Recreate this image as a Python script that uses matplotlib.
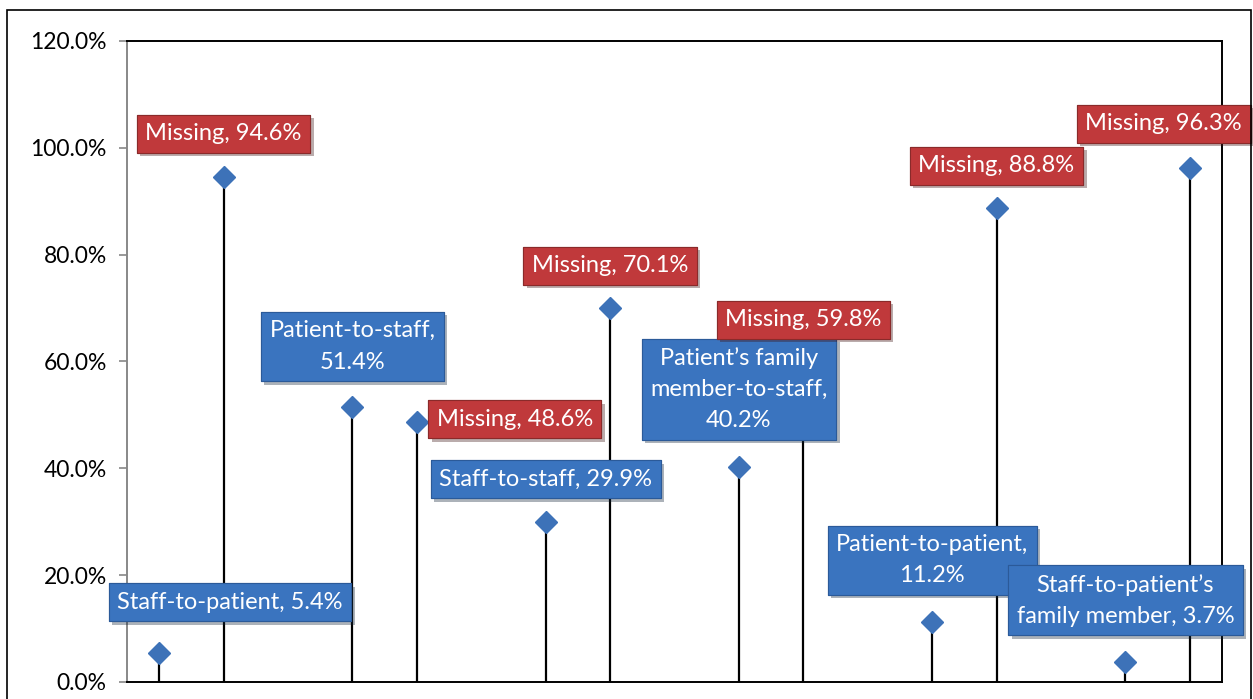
import matplotlib
matplotlib.use("Agg")
import matplotlib.pyplot as plt
import matplotlib.patheffects as pe
from matplotlib.patches import Rectangle
from matplotlib.ticker import FuncFormatter

plt.rcParams['font.family'] = ['Lato', 'DejaVu Sans']

# 17 slots along x, some empty (gaps between groups)
slots = [0, 1, 3, 4, 6, 7, 9, 10, 12, 13, 15, 16]
values = [0.054, 0.946, 0.514, 0.486, 0.299, 0.701,
          0.402, 0.598, 0.112, 0.888, 0.037, 0.963]
labels = ["Staff-to-patient, 5.4%", "Missing, 94.6%",
          "Patient-to-staff,\n51.4%", "Missing, 48.6%",
          "Staff-to-staff, 29.9%", "Missing, 70.1%",
          "Patient\u2019s family\nmember-to-staff,\n40.2%", "Missing, 59.8%",
          "Patient-to-patient,\n11.2%", "Missing, 88.8%",
          "Staff-to-patient\u2019s\nfamily member, 3.7%", "Missing, 96.3%"]
is_missing = [False, True, False, True, False, True,
              False, True, False, True, False, True]
y_ticks = [0.0, 0.2, 0.4, 0.6, 0.8, 1.0, 1.2]

# label offsets from the marker, in pixels
offsets = [(71, 51), (0, 43), (0, 61), (98, 3), (0, 43), (0, 42),
           (0, 78), (0, 43), (0, 62), (0, 42), (0, 62), (-26, 44)]

red = '#C0393B'
blue = '#3A74BF'

fig = plt.figure(figsize=(12.53, 6.99), dpi=100)
ax = fig.add_axes([127/1253, 1 - 682/699, (1222 - 127)/1253, (682 - 41)/699])

ax.vlines(slots, 0, values, color='black', lw=1.6, zorder=2)
ax.plot(slots, values, ls='none', marker='D', markersize=11.5,
        color='#3D72B8', markeredgecolor='#3D72B8', zorder=3)

for x, v, lab, miss, off in zip(slots, values, labels, is_missing, offsets):
    t = ax.annotate(lab, xy=(x, v), xytext=off, textcoords='offset pixels',
                    ha='center', va='center', color='white', fontsize=17,
                    linespacing=1.6, annotation_clip=False, zorder=5,
                    bbox=dict(boxstyle='square,pad=0.36',
                              fc=red if miss else blue,
                              ec='#8a2a2a' if miss else '#2b5a99', lw=0.8))
    t.get_bbox_patch().set_path_effects(
        [pe.withSimplePatchShadow(offset=(2.5, -2.5), alpha=0.35), pe.Normal()])

ax.set_xlim(-0.5, 16.5)
ax.set_ylim(0, 1.2)
ax.set_yticks(y_ticks)
ax.yaxis.set_major_formatter(FuncFormatter(lambda y, _: f"{y*100:.1f}%"))
ax.set_xticks([])
ax.tick_params(axis='y', length=5.5, width=1.2, color='#888888',
               labelsize=16.5, pad=9)
for s in ['top', 'right', 'bottom']:
    ax.spines[s].set_color('black')
    ax.spines[s].set_linewidth(1.4)
ax.spines['left'].set_color('#888888')
ax.spines['left'].set_linewidth(1.4)

fig.patches.append(Rectangle((7/1253, -0.02), (1251 - 7)/1253, 1.02 - 10/699,
                             transform=fig.transFigure, fill=False,
                             ec='black', lw=1.2))

fig.savefig('out.png', dpi=100)
